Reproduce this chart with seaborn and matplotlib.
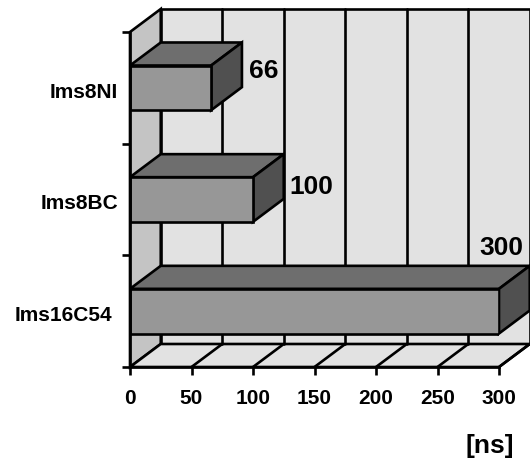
import matplotlib
matplotlib.use('Agg')
import matplotlib.pyplot as plt
import seaborn as sns

devices = ['Ims8NI', 'Ims8BC', 'Ims16C54']
delays = [66, 100, 300]
x_ticks = [0, 50, 100, 150, 200, 250, 300]
y_edges = [-0.5, 0.5, 1.5, 2.5]

# fake 3d depth, in data units
dx = 25
dy = -0.206
line = 1.9

sns.set_style('white')
plt.rcParams['font.family'] = ['Liberation Sans', 'DejaVu Sans']
plt.rcParams['font.weight'] = 'bold'

fig = plt.figure(figsize=(5.3, 4.62), dpi=100)
ax = fig.add_axes([130 / 530, 95 / 462, 369 / 530, 335 / 462])

sns.barplot(x=delays, y=devices, orient='h', width=0.4, color='#979797',
            saturation=1, edgecolor='black', linewidth=line, ax=ax, zorder=4)
bars = list(ax.patches)

ax.set_xlim(0, 300)
ax.set_ylim(2.5, -0.5)
top, bottom = -0.5, 2.5
right = 300

# walls and floor
ax.fill([0, dx, dx, 0], [top, top + dy, bottom + dy, bottom], facecolor='#c4c4c4',
        edgecolor='black', lw=line, clip_on=False, zorder=0)
ax.fill([dx, right + dx, right + dx, dx], [top + dy, top + dy, bottom + dy, bottom + dy],
        facecolor='#e2e2e2', edgecolor='black', lw=line, clip_on=False, zorder=0)
ax.fill([0, right, right + dx, dx], [bottom, bottom, bottom + dy, bottom + dy],
        facecolor='#e2e2e2', edgecolor='black', lw=line, clip_on=False, zorder=1)

# grid on back wall and floor
for t in x_ticks[1:-1]:
    ax.plot([t + dx, t + dx], [top + dy, bottom + dy], color='black', lw=line,
            clip_on=False, zorder=1)
for t in x_ticks[1:]:
    ax.plot([t, t + dx], [bottom, bottom + dy], color='black', lw=line,
            clip_on=False, zorder=2)

# top and side faces from the bars seaborn drew
for bar in bars:
    x0 = bar.get_x()
    w = bar.get_width()
    y0 = bar.get_y()
    h = bar.get_height()
    ax.fill([x0, x0 + dx, x0 + w + dx, x0 + w], [y0, y0 + dy, y0 + dy, y0],
            facecolor='#6e6e6e', edgecolor='black', lw=line, clip_on=False, zorder=3)
    ax.fill([x0 + w, x0 + w + dx, x0 + w + dx, x0 + w],
            [y0, y0 + dy, y0 + h + dy, y0 + h],
            facecolor='#505050', edgecolor='black', lw=line, clip_on=False, zorder=3)

sns.despine(ax=ax)
for side in ['left', 'bottom']:
    ax.spines[side].set_linewidth(line)
    ax.spines[side].set_color('black')
    ax.spines[side].set_zorder(5)

ax.set_xticks(x_ticks)
ax.set_yticks(y_edges)
ax.set_yticklabels([])
ax.tick_params(axis='both', length=6, width=line, color='black', left=True, bottom=True)
ax.tick_params(axis='x', labelsize=15, pad=10, labelcolor='black')
ax.set_ylabel('')

# category labels, the last one sits further left
label_off = [-12, -12, -18]
for i, name in enumerate(devices):
    ax.annotate(name, (0, i), xytext=(label_off[i] * 0.72, -3), textcoords='offset points',
                ha='right', va='center', fontsize=15, fontweight='bold', color='black',
                annotation_clip=False)

# value labels
value_off = [(16, -3.6), (19.5, -7.4), (-20.7, 29.3)]
for bar, val, off in zip(bars, delays, value_off):
    ax.annotate(str(val), (val + dx, bar.get_y()), xytext=off, textcoords='offset points',
                ha='center', va='center', fontsize=19,
                fontweight='bold', color='black', annotation_clip=False, zorder=6)

fig.text(490 / 530, 1 - 446 / 462, '[ns]', ha='center', va='center', fontsize=19,
         fontweight='bold', color='black')

fig.savefig('out.png', dpi=100)
